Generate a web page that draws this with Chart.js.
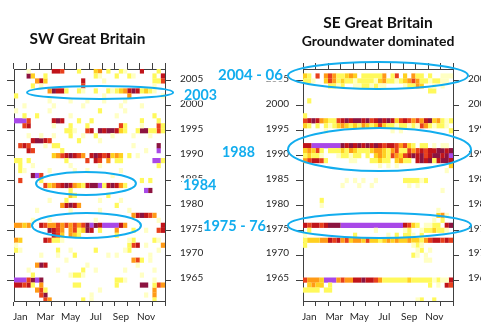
<!DOCTYPE html>
<html>
<head>
<meta charset="utf-8">
<script src="https://cdn.jsdelivr.net/npm/chart.js@4/dist/chart.umd.min.js"></script>
<style>
html,body{margin:0;padding:0;background:#fff;overflow:hidden;width:481px;height:323px;}
canvas{position:absolute;top:0;}
#sw{left:0;}
#se{left:200px;}
</style>
</head>
<body>
<canvas id="sw" width="300" height="323"></canvas>
<canvas id="se" width="300" height="323"></canvas>
<script>
// ---------- data ----------
const monthLabels = ['Jan','Feb','Mar','Apr','May','Jun','Jul','Aug','Sep','Oct','Nov','Dec'];
const yearTicks = [1965, 1970, 1975, 1980, 1985, 1990, 1995, 2000, 2005];
const rowYears = [2007, 2006, 2005, 2004, 2003, 2002, 2001, 2000, 1999, 1998,
                  1997, 1996, 1995, 1994, 1993, 1992, 1991, 1990, 1989, 1988,
                  1987, 1986, 1985, 1984, 1983, 1982, 1981, 1980, 1979, 1978,
                  1977, 1976, 1975, 1974, 1973, 1972, 1971, 1970, 1969, 1968,
                  1967, 1966, 1965, 1964, 1963, 1962, 1961];
// drought intensity levels 1..8, colour per level
const levelColors = ['#FFFFC4', '#FFF95C', '#FFD020', '#FF9A16', '#E8401C', '#C0141A', '#8C1440', '#A848E8'];

// 36 ten-day bins per year (Jan..Dec), '.' = no drought
const swRows = [
 "...1.. ...665 ...2.. .34.2. .21... 6...2.",
 "...73. .2.... ...... .21... 2..21. ...2.6",
 ".....4 63.... ....6. ...1.. ...... ...225",
 "....2. 1..... ....5. ...... ...... ...1..",
 "...... ..4766 2..21. .2..21 234676 2321..",
 "2..... ...... ...... ...1.. ...4.. .....1",
 "...... ..1... .1...1 ...1.. ..1... ......",
 "..1... ...1.. ....1. ...... .1.... 1.....",
 "1..... ..1... ...... ..2... ..1... ......",
 "..2..2 ...... .1.... ...... 1..... ...2..",
 "8885.. ...676 ...2.. 2..... ...... 2...2.",
 "..56.. ...1.. .2...2 ...... .52... 1...52",
 "...... ...... 221..5 6.7677 632..2 772252",
 "...1.. 1..1.. .2..1. .2...1 ....1. ..1...",
 "....67 765... ...2.. ..1... ...... ......",
 ".565.. .1.22. ...... ...... ....1. ....7.",
 "...65. .....2 ...... ...... ...... .1..8.",
 "...... ...345 67654. 676563 43.2.1 ......",
 "22.2.. ...... 2....5 .65.4. 22.... ...882",
 ".2..1. ...... .1.... ..1... ...... ....2.",
 ".21... ..1... ..1..1 ...... .1.... ......",
 "....78 5..... ...... .....1 ...... ......",
 ".5.... 2..... ...... ...... ...... 2.2...",
 "...... .53456 764326 778267 642... ......",
 "...... ...... .2.... ...... ...... .87...",
 "...... ...... .32... ....2. ...... ......",
 "...... ..1... 2..... ..1... .1.... ......",
 "...... .....4 6764.. ...... 2..... ......",
 ".....1 ...... .1.... ..1... ...1.. ......",
 "...... ...... ...... ...... ....46 7654..",
 "....1. ..1... ...... .1.... ...... ....1.",
 "4434.. 654454 545457 876888 864... .....6",
 "...... ..7654 .45237 6.2... 4...2. .1..56",
 "...... ...653 .432.. ...... 2..... ......",
 "43.... .65221 ...... ...... ...12. ...21.",
 "1..... ...... ...... ...... ...256 .1...4",
 "21.... ....2. .1.... .2.... ..12.. ....1.",
 "...... 1...1. ..2... ....1. 1..... ..1...",
 "...... ...... 1..... ...... ....45 2.1...",
 ".....4 76.... .....1 ...... .....1 ......",
 "...1.. ....1. ....2. .1.... ..1... ...1..",
 "....2. ...... .1221. ...... ...... 1.....",
 "888578 7..... ...... ...... 221... ...1..",
 "66562. 4..... ..22.. ...... 2..... 77.254",
 ".....4 52.... ...... ..1... ...... ...4..",
 "...... 57.... ...... 1..... ...... .1.4..",
 "...... .54... ....2. 1..... ...... ...2.."
];
const seRows = [
 "...... ...... ...... ...... ...... ......",
 "32.5.4 542234 3.2222 24.25. 3.422. 2..111",
 "221..3 542322 122221 342212 345422 12211.",
 "...... 2212.. 112212 11.... 12243. .1.1..",
 "...... ...... ...... ...... ...... 22....",
 "...... ...... ...... ...... ...... ......",
 ".2.... ...... ...... ...... ...... ......",
 "...... ...... ...... ...... ...... ......",
 "...... ...... ...... ...... ...... ......",
 "2..... ...... ...... ...... ...... ......",
 "567643 225676 776756 767635 654546 734212",
 "32.2.2 123432 324323 532212 212154 21221.",
 ".....1 ...... ...... ...1.1 ...... .....2",
 "...... ...... ...... ...... ...... ......",
 "...... ...... ...... ...... ...... ......",
 "668888 888767 676767 656654 532.22 .1.11.",
 "34352. 222324 322234 432452 254565 667767",
 "23221. ..1221 22.2.3 432543 567675 677678",
 "456652 .....1 1...22 322.34 22.676 726776",
 "...... ...... ...... 1.1.1. ...... .....3",
 "...... ...... ...... ...... ...... ....1.",
 "...... ...... ...... ...... ...... ......",
 "...... ....1. 1.1..1 ...... 222212 ......",
 "...... ...1.. .1..1. ...... .1.1.. ......",
 "...... ...... ...... ...... ...... ...1..",
 "...... ...... ...... ...... ...... ......",
 "....2. ...... ...... ...... ...... ......",
 "....1. ...... ...... ...... ...... ......",
 "...... ...... ...... ...... ...... ..1...",
 "...... ...... ...... ...... ...... ..341.",
 "...... ...... ...... ...... ...... .1.2..",
 "656656 777888 888888 888888 6532.1 122.67",
 ".2.... ...... .....1 ...... 12..12 23221.",
 "1..... ...... 2..... ..1.2. 221.2. ......",
 "233344 656453 443533 234343 343324 566565",
 "2..... ...... ...... ...... ..121. ......",
 "...... ...... ...... ...... ...12. 1.....",
 "...... ...... ...... ...... ..21.1 ......",
 "...... ...... ...... ...... .....1 1.....",
 "...... ...... ...... ...... ...... ......",
 "...... ...... ...... ...... ...... ......",
 "...... ...... ...... ...... ...... ......",
 "544438 884544 667665 422222 232222 212116",
 ".3433. 2..... ...... ...... ...... 2.1.65",
 "2222.2 2..... ...... ...... ...... ......",
 "...... ...... ...... ...... ...... ......",
 "...... ...... ...... ...... ...12. .2...."
];

// annotations (month / year units)
const swEllipses = [
  {month: 6.84, year: 2002.69, rMonth: 5.80, rYear: 1.31},
  {month: 5.72, year: 1984.42, rMonth: 3.97, rYear: 2.31},
  {month: 5.76, year: 1975.98, rMonth: 4.33, rYear: 2.51}
];
const swNotes = ['2003', '1984', '1975 - 76'];
const swNoteYears = [2002.35, 1984.16, 1975.9];
const seEllipses = [
  {month: 6.00, year: 2006.10, rMonth: 7.20, rYear: 2.71},
  {month: 6.12, year: 1991.24, rMonth: 7.32, rYear: 4.32},
  {month: 6.12, year: 1975.98, rMonth: 7.32, rYear: 2.51}
];
const seNotes = ['2004 - 06', '1988'];
const seNoteYears = [2006.2, 1990.8];

// ---------- styling ----------
const BLUE = '#12ADEE';
const AXIS = '#404040';
const TICK_TXT = '#262626';
const FONT = 'Lato';

function buildDatasets(rows) {
  return levelColors.map((color, li) => {
    const level = String(li + 1);
    const data = [];
    rows.forEach((row, ri) => {
      const s = row.replace(/\s/g, '');
      let i = 0;
      while (i < s.length) {
        if (s[i] === level) {
          let j = i;
          while (j < s.length && s[j] === level) j++;
          data.push({y: rowYears[ri], x: [i / 3, j / 3]});
          i = j;
        } else i++;
      }
    });
    return {data, backgroundColor: color, borderWidth: 0, grouped: false,
            barPercentage: 1.04, categoryPercentage: 1};
  });
}

function fitFont(ctx, text, weight, width) {
  ctx.font = weight + ' 20px ' + FONT;
  const w = ctx.measureText(text).width;
  const size = 20 * width / w;
  ctx.font = weight + ' ' + size.toFixed(2) + 'px ' + FONT;
  return size;
}

const overlay = {
  id: 'overlay',
  afterDraw(chart, args, o) {
    const {ctx, chartArea: ca} = chart;
    const x = chart.scales.x, y = chart.scales.y;
    ctx.save();
    // blue notes
    o.notes.forEach((t, i) => {
      const L = o.noteLayout[i];
      fitFont(ctx, t, 'bold', L.w);
      const m = ctx.measureText(t);
      const asc = m.actualBoundingBoxAscent, desc = m.actualBoundingBoxDescent;
      const cy = y.getPixelForValue(o.noteYears[i]);
      const left = (L.from === 'right' ? ca.right : ca.left) + L.dx;
      const base = cy + (asc - desc) / 2;
      ctx.fillStyle = '#fff';
      ctx.fillRect(left - 1, base - asc - 1, m.width + 1, asc + desc + 2);
      ctx.fillStyle = BLUE;
      ctx.textAlign = 'left';
      ctx.textBaseline = 'alphabetic';
      ctx.fillText(t, left, base);
    });
    // ellipses
    o.ellipses.forEach(e => {
      const cx = x.getPixelForValue(e.month), cy = y.getPixelForValue(e.year);
      const rx = Math.abs(x.getPixelForValue(e.month + e.rMonth) - cx);
      const ry = Math.abs(y.getPixelForValue(e.year + e.rYear) - cy);
      ctx.beginPath();
      ctx.ellipse(cx, cy, rx, ry, 0, 0, Math.PI * 2);
      ctx.strokeStyle = BLUE;
      ctx.lineWidth = 2;
      ctx.stroke();
    });
    // titles
    o.titles.forEach(T => {
      fitFont(ctx, T.text, 'bold', T.w);
      ctx.fillStyle = '#111';
      ctx.textAlign = 'center';
      ctx.textBaseline = 'alphabetic';
      ctx.fillText(T.text, (ca.left + ca.right) / 2 + T.dx, T.base);
    });
    ctx.restore();
  }
};

function monthTicks(s) { s.ticks = monthLabels.map((m, i) => ({value: i + 0.5})); }
function yearTickBuild(s) { s.ticks = yearTicks.map(v => ({value: v})); }

function makeScales(leftW, rightW, leftLabels) {
  const grid = {color: AXIS, lineWidth: 1, drawOnChartArea: false, drawTicks: true};
  const border = {display: true, color: AXIS, width: 1};
  const tickFont = {family: FONT, size: 10};
  return {
    x: {
      type: 'linear', position: 'bottom', min: 0, max: 12, offset: false,
      afterBuildTicks: monthTicks,
      ticks: {autoSkip: false, maxRotation: 0, minRotation: 0, padding: 5, color: TICK_TXT, font: tickFont,
              callback: (v, i) => (i % 2 === 0 ? monthLabels[i] : '')},
      grid: Object.assign({}, grid, {offset: true, tickLength: 5}),
      border,
      afterFit: s => { s.height = 22; }
    },
    xTop: {
      type: 'linear', position: 'top', min: 0, max: 12, offset: false,
      afterBuildTicks: monthTicks,
      ticks: {display: false, autoSkip: false},
      grid: Object.assign({}, grid, {offset: true, tickLength: 6}),
      border,
      afterFit: s => { s.height = 69; }
    },
    y: {
      type: 'linear', position: 'left', min: 1960.8, max: 2007.4, offset: false,
      afterBuildTicks: yearTickBuild,
      ticks: {display: leftLabels, autoSkip: false, padding: 7, labelOffset: -2, color: TICK_TXT, font: tickFont,
              callback: v => String(v)},
      grid: Object.assign({}, grid, {offset: false, tickLength: 7}),
      border,
      afterFit: s => { s.width = leftW; }
    },
    yR: {
      type: 'linear', position: 'right', min: 1960.8, max: 2007.4, offset: false,
      afterBuildTicks: yearTickBuild,
      ticks: {display: true, autoSkip: false, padding: 9, labelOffset: -2, color: TICK_TXT, font: tickFont,
              callback: v => String(v)},
      grid: Object.assign({}, grid, {offset: false, tickLength: 6}),
      border,
      afterFit: s => { s.width = rightW; }
    }
  };
}

function makeChart(id, rows, scales, overlayOpts) {
  return new Chart(document.getElementById(id), {
    type: 'bar',
    data: {datasets: buildDatasets(rows)},
    options: {
      indexAxis: 'y',
      responsive: false,
      animation: false,
      events: [],
      layout: {padding: 0},
      scales,
      plugins: {legend: {display: false}, tooltip: {enabled: false}, title: {display: false},
                overlay: overlayOpts}
    },
    plugins: [overlay]
  });
}

makeChart('sw', swRows, makeScales(14, 135, false), {
  ellipses: swEllipses,
  notes: swNotes, noteYears: swNoteYears,
  noteLayout: [{from: 'right', dx: 19, w: 33}, {from: 'right', dx: 18, w: 33.5}, {from: 'right', dx: 38, w: 63}],
  titles: [{text: 'SW Great Britain', dx: -2, base: 44.3, w: 116}]
});

makeChart('se', seRows, makeScales(103, 47, true), {
  ellipses: seEllipses,
  notes: seNotes, noteYears: seNoteYears,
  noteLayout: [{from: 'left', dx: -85, w: 65}, {from: 'left', dx: -81, w: 33}],
  titles: [{text: 'SE Great Britain', dx: 0, base: 28.3, w: 109.6},
           {text: 'Groundwater dominated', dx: 0, base: 46, w: 152.7}]
});
</script>
</body>
</html>
